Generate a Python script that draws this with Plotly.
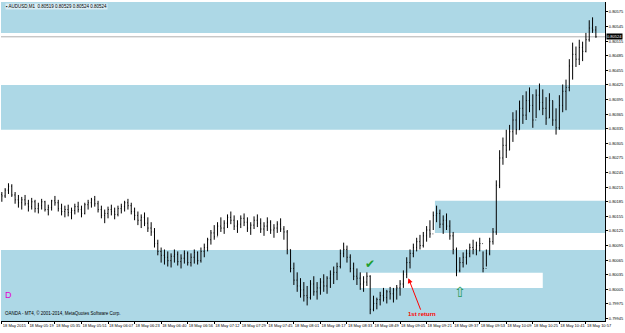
import plotly.graph_objects as go

# ---- data (prices) ----
bar_minute = list(range(0, 360, 2))  # 2-minute bars, minutes after 05:03

high = [0.80205,0.80213,0.80223,0.80221,0.80205,0.80199,0.80195,0.80199,0.80189,0.80193,
        0.80189,0.80183,0.80191,0.80187,0.80179,0.80189,0.80197,0.80189,0.80181,0.80177,
        0.80179,0.80173,0.80181,0.80185,0.80177,0.80183,0.80189,0.80193,0.80197,0.80187,
        0.80177,0.80169,0.80175,0.80179,0.80173,0.80177,0.80181,0.80187,0.80191,0.80183,
        0.80173,0.80165,0.80159,0.80163,0.80153,0.80143,0.80131,0.80107,0.80091,0.80087,
        0.80083,0.80079,0.80087,0.80083,0.80077,0.80085,0.80083,0.80079,0.80087,0.80083,
        0.80091,0.80099,0.80111,0.80127,0.80137,0.80143,0.80153,0.80147,0.80159,0.80165,
        0.80157,0.80147,0.80157,0.80161,0.80153,0.80143,0.80155,0.80159,0.80151,0.80143,
        0.80153,0.80147,0.80139,0.80145,0.80151,0.80135,0.80127,0.80087,0.80060,0.80040,
        0.80028,0.80020,0.80012,0.80024,0.80032,0.80020,0.80028,0.80036,0.80032,0.80044,
        0.80052,0.80060,0.80087,0.80101,0.80095,0.80077,0.80060,0.80048,0.80040,0.80032,
        0.80040,0.80034,0.79992,0.79988,0.80000,0.80008,0.80004,0.80010,0.80008,0.80014,
        0.80024,0.80044,0.80071,0.80087,0.80099,0.80111,0.80117,0.80123,0.80135,0.80147,
        0.80165,0.80177,0.80169,0.80157,0.80161,0.80147,0.80123,0.80091,0.80071,0.80081,
        0.80087,0.80099,0.80107,0.80103,0.80111,0.80083,0.80087,0.80111,0.80131,0.80229,
        0.80291,0.80317,0.80333,0.80343,0.80369,0.80373,0.80393,0.80404,0.80412,0.80420,
        0.80406,0.80416,0.80428,0.80416,0.80400,0.80408,0.80393,0.80377,0.80404,0.80426,
        0.80436,0.80478,0.80512,0.80504,0.80518,0.80514,0.80532,0.80558,0.80564,0.80546]

low = [0.80185,0.80193,0.80201,0.80195,0.80181,0.80173,0.80169,0.80177,0.80165,0.80169,
       0.80163,0.80161,0.80169,0.80165,0.80157,0.80167,0.80177,0.80165,0.80157,0.80153,
       0.80155,0.80149,0.80159,0.80163,0.80153,0.80159,0.80169,0.80173,0.80175,0.80163,
       0.80151,0.80141,0.80151,0.80157,0.80149,0.80155,0.80161,0.80165,0.80169,0.80159,
       0.80147,0.80137,0.80131,0.80135,0.80123,0.80115,0.80091,0.80075,0.80060,0.80056,
       0.80052,0.80050,0.80060,0.80054,0.80048,0.80058,0.80054,0.80052,0.80058,0.80056,
       0.80060,0.80071,0.80083,0.80097,0.80107,0.80115,0.80123,0.80119,0.80131,0.80139,
       0.80127,0.80121,0.80131,0.80135,0.80123,0.80117,0.80129,0.80133,0.80121,0.80115,
       0.80125,0.80119,0.80111,0.80121,0.80123,0.80107,0.80077,0.80040,0.80014,0.80000,
       0.79988,0.79980,0.79972,0.79984,0.79992,0.79984,0.79994,0.80000,0.79996,0.80008,
       0.80016,0.80024,0.80048,0.80071,0.80060,0.80040,0.80024,0.80014,0.80004,0.80000,
       0.80012,0.79954,0.79960,0.79964,0.79972,0.79980,0.79976,0.79984,0.79978,0.79984,
       0.79992,0.80008,0.80028,0.80048,0.80071,0.80083,0.80087,0.80091,0.80103,0.80111,
       0.80127,0.80143,0.80131,0.80119,0.80127,0.80107,0.80077,0.80032,0.80040,0.80050,
       0.80056,0.80071,0.80077,0.80075,0.80083,0.80040,0.80052,0.80075,0.80097,0.80117,
       0.80213,0.80261,0.80275,0.80291,0.80308,0.80323,0.80333,0.80345,0.80353,0.80369,
       0.80337,0.80357,0.80373,0.80363,0.80343,0.80357,0.80341,0.80323,0.80333,0.80369,
       0.80373,0.80412,0.80436,0.80462,0.80466,0.80474,0.80492,0.80514,0.80532,0.80522]

close = [0.80197,0.80209,0.80217,0.80199,0.80189,0.80183,0.80189,0.80181,0.80175,0.80185,
         0.80171,0.80177,0.80185,0.80169,0.80173,0.80187,0.80183,0.80171,0.80165,0.80169,
         0.80163,0.80167,0.80175,0.80169,0.80161,0.80179,0.80183,0.80189,0.80181,0.80169,
         0.80157,0.80161,0.80169,0.80165,0.80159,0.80171,0.80175,0.80183,0.80177,0.80165,
         0.80157,0.80147,0.80153,0.80141,0.80131,0.80123,0.80099,0.80083,0.80075,0.80071,
         0.80064,0.80073,0.80077,0.80062,0.80069,0.80079,0.80060,0.80071,0.80081,0.80064,
         0.80083,0.80091,0.80107,0.80121,0.80113,0.80135,0.80131,0.80141,0.80153,0.80147,
         0.80135,0.80139,0.80151,0.80143,0.80131,0.80137,0.80147,0.80141,0.80129,0.80135,
         0.80143,0.80127,0.80131,0.80139,0.80129,0.80123,0.80087,0.80048,0.80024,0.80012,
         0.80004,0.79992,0.79988,0.80016,0.80000,0.80008,0.80020,0.80012,0.80028,0.80036,
         0.80040,0.80052,0.80079,0.80087,0.80071,0.80048,0.80032,0.80028,0.80016,0.80020,
         0.80032,0.79964,0.79976,0.79984,0.79992,0.79988,0.80000,0.79996,0.80004,0.80008,
         0.80016,0.80036,0.80060,0.80079,0.80091,0.80103,0.80095,0.80115,0.80127,0.80119,
         0.80157,0.80161,0.80139,0.80147,0.80135,0.80115,0.80087,0.80044,0.80060,0.80071,
         0.80079,0.80091,0.80087,0.80095,0.80099,0.80048,0.80079,0.80103,0.80123,0.80219,
         0.80275,0.80301,0.80291,0.80329,0.80353,0.80333,0.80377,0.80363,0.80393,0.80383,
         0.80353,0.80404,0.80389,0.80377,0.80357,0.80393,0.80353,0.80337,0.80383,0.80412,
         0.80420,0.80464,0.80488,0.80478,0.80502,0.80494,0.80518,0.80542,0.80538,0.80524]

first_open = 0.80200
open_ = [first_open] + close[:-1]

time_labels = ["18 May 2015", "18 May 05:19", "18 May 05:35", "18 May 05:51", "18 May 06:07",
               "18 May 06:23", "18 May 06:40", "18 May 06:56", "18 May 07:12", "18 May 07:29",
               "18 May 07:45", "18 May 08:01", "18 May 08:17", "18 May 08:33", "18 May 08:49",
               "18 May 09:05", "18 May 09:21", "18 May 09:37", "18 May 09:53", "18 May 10:09",
               "18 May 10:25", "18 May 10:41", "18 May 10:57"]
time_label_minute = [0, 16, 32, 48, 64, 80, 96, 112, 128, 144, 160, 176, 192, 208, 224,
                     240, 256, 272, 288, 304, 320, 336, 352]

price_labels = ["0.80575", "0.80545", "0.80515", "0.80485", "0.80455", "0.80425", "0.80395",
                "0.80365", "0.80335", "0.80305", "0.80275", "0.80245", "0.80215", "0.80185",
                "0.80155", "0.80125", "0.80095", "0.80065", "0.80035", "0.80005", "0.79975",
                "0.79945"]

last_price = 0.80524
header_text = "▪ AUDUSD,M1  0.80519 0.80529 0.80524 0.80524"
footer_text = "OANDA - MT4, © 2001-2014, MetaQuotes Software Corp."

# supply / demand zones: (x0 minute, x1 minute, low price, high price, colour)
zones = [
    (None, None, 0.80532, 0.80610, "#add8e6"),
    (None, None, 0.80333, 0.80425, "#add8e6"),
    (261, None, 0.80121, 0.80187, "#add8e6"),
    (None, None, 0.79900, 0.80086, "#add8e6"),
    (216, 326, 0.80008, 0.80039, "#ffffff"),
]

X_RANGE = [-0.5, 363.5]
Y_RANGE = [0.79940, 0.805955]
AX_FONT = dict(size=4, family="Liberation Sans", color="black")

fig = go.Figure()
fig.add_trace(go.Ohlc(
    x=bar_minute, open=open_, high=high, low=low, close=close,
    increasing=dict(line=dict(color="black", width=1)),
    decreasing=dict(line=dict(color="black", width=1)),
    tickwidth=0.2, showlegend=False, hoverinfo="skip"))

for x0, x1, p0, p1, col in zones:
    fig.add_shape(type="rect", layer="below", line_width=0, fillcolor=col,
                  xref="x", yref="y",
                  x0=X_RANGE[0] - 5 if x0 is None else x0,
                  x1=X_RANGE[1] + 5 if x1 is None else x1,
                  y0=p0, y1=p1)

# current price line
fig.add_shape(type="line", layer="below", xref="paper", yref="y", x0=0, x1=1,
              y0=last_price, y1=last_price, line=dict(color="#b0b0b0", width=1))

fig.add_annotation(xref="paper", yref="y", x=1, y=last_price, xanchor="left", xshift=1,
                   text=format(last_price, ".5f"), showarrow=False, bgcolor="black",
                   font=dict(color="white", size=4, family="Liberation Sans"), borderpad=0)

fig.add_annotation(xref="paper", yref="paper", x=0.006, y=0.997, xanchor="left", yanchor="top",
                   text=header_text, showarrow=False, bgcolor="rgba(255,255,255,0.55)",
                   font=dict(color="black", size=4.5, family="Liberation Sans"), borderpad=0)
fig.add_annotation(xref="paper", yref="paper", x=0.004, y=0.01, xanchor="left", yanchor="bottom",
                   text=footer_text, showarrow=False,
                   font=dict(color="black", size=4.5, family="Liberation Sans"))
fig.add_annotation(xref="paper", yref="y", x=0.003, y=0.79994, xanchor="left",
                   text="D", showarrow=False,
                   font=dict(color="#e000d0", size=9, family="Liberation Sans"))

# markers on the chart
fig.add_annotation(x=222, y=0.80058, text="✔", showarrow=False,
                   font=dict(color="#1e9e2e", size=12, family="DejaVu Sans"))
fig.add_annotation(x=276, y=0.80000, text="⇧", showarrow=False,
                   font=dict(color="#1f9a55", size=14, family="DejaVu Sans"))
fig.add_annotation(x=245, y=0.80028, ax=14, ay=36, text="<b>1st return</b>",
                   showarrow=True, arrowhead=2, arrowsize=1, arrowwidth=1, arrowcolor="red",
                   font=dict(color="red", size=6, family="Liberation Sans"))

fig.update_layout(
    width=625, height=333, margin=dict(l=1, r=20, t=2, b=12, autoexpand=False),
    paper_bgcolor="white", plot_bgcolor="white", showlegend=False,
    xaxis=dict(range=X_RANGE, rangeslider=dict(visible=False), tickvals=time_label_minute,
               ticktext=time_labels, tickfont=AX_FONT,
               tickangle=0, automargin=False,
               ticks="outside", ticklen=2, tickcolor="black", showline=True, linecolor="black",
               linewidth=1, showgrid=False, zeroline=False, ticklabelposition="outside right"),
    yaxis=dict(range=Y_RANGE, side="right", tickvals=[float(v) for v in price_labels],
               ticktext=price_labels, tickfont=AX_FONT,
               automargin=False, ticklabelstandoff=0,
               ticks="outside", ticklen=2, tickcolor="black", showline=True, linecolor="black",
               linewidth=1, showgrid=False, zeroline=False),
)

fig.write_html("out.html")
